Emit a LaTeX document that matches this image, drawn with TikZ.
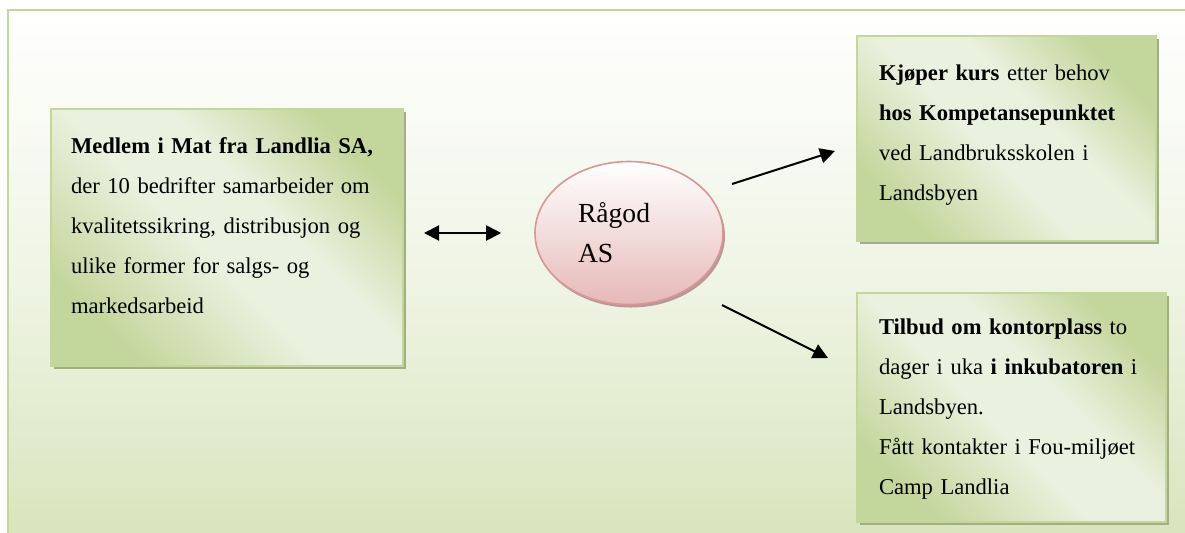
\documentclass[tikz,border=0pt]{standalone}
\usepackage{fontspec}
\setmainfont{Liberation Serif}
\usetikzlibrary{shapes.geometric,shadows,calc,arrows.meta,positioning}
\definecolor{bggreen}{HTML}{D8E4BC}
\definecolor{framegreen}{HTML}{C3D69B}
\definecolor{boxgreen}{HTML}{C3D69B}
\definecolor{boxlight}{HTML}{EBF1DF}
\definecolor{shadowgreen}{HTML}{A0B084}
\definecolor{rosepink}{HTML}{E6B9B8}
\definecolor{roseline}{HTML}{D99694}
\definecolor{roseshadow}{HTML}{B89898}
\pgfdeclarehorizontalshading{boxshade}{100bp}{color(0bp)=(boxgreen); color(25bp)=(boxgreen); color(46bp)=(boxlight); color(58bp)=(boxlight); color(75bp)=(boxgreen); color(100bp)=(boxgreen)}

\begin{document}
\begin{tikzpicture}[x=0.5pt,y=-0.5pt,
    infobox/.style={draw=framegreen, line width=1pt, shading=boxshade, shading angle=45,
        anchor=north west, align=left, inner xsep=11pt, inner ysep=0pt,
        font=\fontsize{11.3}{20}\selectfont,
        drop shadow={shadow xshift=1.5pt, shadow yshift=-1.5pt, fill=shadowgreen, opacity=1}},
    rosebubble/.style={ellipse, draw=roseline, line width=0.8pt, top color=white, bottom color=rosepink,
        minimum width=94pt, minimum height=71.5pt, inner sep=0pt, text width=51pt, align=left,
        font=\fontsize{13.8}{20}\selectfont,
        drop shadow={shadow xshift=1pt, shadow yshift=-1.5pt, fill=roseshadow, opacity=1}},
    link/.style={line width=1pt, -{Triangle[length=7.5pt,width=7.5pt]}}]
    \useasboundingbox (0,0) rectangle (1185,532);
    % background frame
    \shade[top color=white, bottom color=bggreen, middle color=white!60!bggreen] (8,10) rectangle (1200,545);
    \draw[framegreen, line width=1pt] (8,545) -- (8,10) -- (1200,10);

    \node[infobox, inner xsep=10pt, text width=156pt, minimum height=128.5pt] (medlem) at (50,108)
        {\textbf{Medlem i Mat fra Landlia SA,}\\ der 10 bedrifter samarbeider om\\ kvalitetssikring, distribusjon og\\ ulike former for salgs- og\\ markedsarbeid\par\kern12pt};
    \node[rosebubble] (ragod) at (629,233) {Rågod\\AS};
    \node[infobox, text width=127.5pt, minimum height=102.5pt] (kurs) at (856,35)
        {\textbf{Kjøper kurs} etter behov\\ \textbf{hos Kompetansepunktet}\\ ved Landbruksskolen i\\ Landsbyen\par\kern3pt};
    \node[infobox, text width=132.5pt, minimum height=114.5pt] (kontor) at (856,292)
        {\textbf{Tilbud om kontorplass} to\\ dager i uka \textbf{i inkubatoren} i\\ Landsbyen.\\ Fått kontakter i Fou-miljøet\\ Camp Landlia\par\kern-2pt};

    \draw[link, {Triangle[length=7.5pt,width=7.5pt]}-{Triangle[length=7.5pt,width=7.5pt]}, shorten <=10pt, shorten >=16.5pt]
        (medlem.east |- ragod) -- (ragod);
    \draw[link] ($(ragod.center)+(103,-49)$) -- ($(kurs.west)+(-21,12.5)$);
    \draw[link] ($(ragod.center)+(93,72)$) -- ($(kontor.west)+(-28,-49.5)$);
\end{tikzpicture}
\end{document}
